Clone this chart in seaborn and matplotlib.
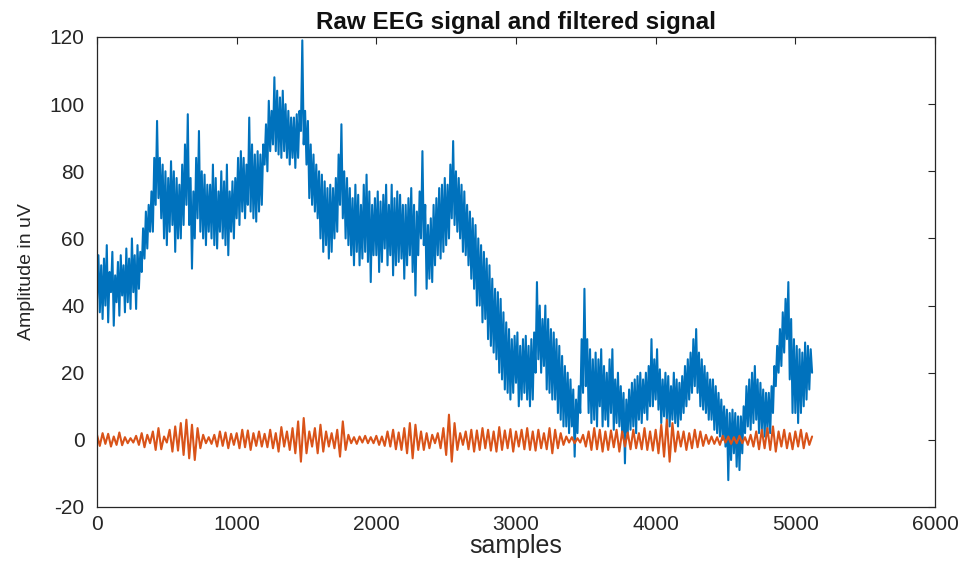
import numpy as np
import pandas as pd
import matplotlib
matplotlib.use("Agg")
import matplotlib.pyplot as plt
import seaborn as sns

# Raw EEG trace (uV), one value every 10 samples, 0..5120
raw_step = 10
raw_eeg = [
    42, 55, 38, 52, 36, 54, 40, 58, 35, 50, 44, 56, 34, 49, 41, 53, 37, 55, 43, 52,
    38, 57, 41, 54, 39, 60, 44, 55, 39, 58, 45, 56, 50, 63, 54, 68, 57, 70, 62, 74,
    62, 84, 70, 95, 72, 84, 66, 82, 60, 80, 58, 78, 62, 83, 64, 80, 56, 78, 60, 76,
    60, 82, 64, 88, 70, 97, 64, 78, 51, 74, 60, 84, 66, 92, 62, 80, 60, 79, 58, 76,
    62, 76, 60, 82, 58, 78, 57, 74, 62, 80, 60, 77, 58, 82, 55, 74, 62, 77, 60, 78,
    66, 84, 64, 86, 68, 84, 66, 82, 70, 96, 68, 88, 66, 85, 65, 86, 68, 85, 70, 88,
    82, 94, 80, 101, 86, 98, 88, 108, 86, 104, 85, 102, 84, 104, 86, 100, 84, 98, 82, 96,
    84, 96, 81, 97, 84, 98, 92, 119, 88, 98, 82, 95, 72, 88, 70, 85, 68, 82, 66, 80,
    60, 79, 56, 77, 58, 75, 54, 76, 56, 75, 60, 78, 62, 85, 70, 94, 66, 80, 60, 78,
    58, 75, 55, 72, 52, 76, 56, 73, 52, 70, 54, 76, 56, 79, 53, 74, 47, 70, 55, 72,
    55, 74, 50, 71, 53, 73, 57, 76, 52, 70, 55, 76, 49, 72, 52, 74, 53, 73, 54, 70,
    48, 70, 52, 72, 55, 75, 50, 70, 43, 68, 55, 74, 60, 86, 58, 70, 45, 64, 48, 66,
    47, 70, 52, 72, 55, 75, 54, 76, 56, 78, 58, 76, 60, 82, 66, 89, 64, 80, 62, 78,
    60, 76, 56, 74, 55, 70, 52, 68, 48, 66, 45, 64, 40, 60, 40, 58, 35, 56, 36, 54,
    30, 52, 28, 48, 26, 45, 24, 44, 20, 42, 18, 38, 15, 35, 14, 33, 12, 30, 14, 31,
    17, 32, 10, 28, 12, 30, 14, 31, 12, 28, 10, 30, 12, 32, 20, 47, 24, 40, 20, 36,
    22, 40, 15, 36, 14, 33, 12, 32, 12, 30, 8, 28, 6, 25, 4, 22, 4, 20, 2, 18,
    4, 15, -5, 12, 2, 16, 8, 30, 14, 45, 16, 30, 8, 27, 5, 24, 6, 26, 4, 24,
    10, 27, 4, 22, 6, 20, 4, 24, 8, 27, 3, 18, 5, 20, 4, 16, 2, 14, -7, 12,
    2, 15, 3, 17, 4, 18, 2, 19, 6, 20, 5, 18, 8, 20, 6, 22, 10, 30, 10, 24,
    12, 27, 9, 21, 5, 18, 7, 20, 6, 19, 4, 16, 6, 20, 5, 18, 4, 17, 6, 19,
    8, 22, 10, 24, 12, 26, 14, 30, 16, 33, 14, 26, 10, 24, 9, 22, 8, 20, 6, 18,
    6, 18, 3, 16, 2, 14, 1, 12, 0, 10, -2, 9, -12, 8, -6, 9, -4, 8, -8, 7,
    -9, 7, -4, 10, 2, 16, 4, 18, 3, 20, 5, 22, 6, 18, 2, 17, 3, 15, 1, 14,
    3, 14, 2, 16, 8, 22, 16, 28, 20, 33, 22, 38, 26, 42, 30, 47, 18, 36, 8, 30,
    8, 28, 5, 27, 8, 26, 10, 29, 12, 28, 15, 27, 20,
]

# Filtered trace (uV), one value every 20 samples, 0..5120
filt_step = 20
filtered = [
    1.5, -1.8, 2.0, -1.2, 1.8, -2.0, 1.0, -1.5, 2.2, -1.6,
    0.8, -1.0, 0.5, -0.8, 1.2, -1.5, 2.0, -2.2, 1.5, -1.0,
    2.5, -3.0, 3.5, -2.8, 1.0, -0.8, 3.0, -3.5, 4.0, -3.2,
    5.0, -4.5, 6.0, -5.5, 4.5, -6.0, 3.5, -2.5, 1.5, -1.0,
    0.8, -1.2, 1.5, -2.0, 2.5, -1.8, 2.2, -2.5, 1.8, -1.5,
    2.0, -2.5, 3.0, -2.2, 2.8, -3.0, 2.0, -1.8, 2.5, -2.0,
    1.8, -2.2, 3.0, -2.5, 2.0, -3.5, 3.8, -2.0, 2.5, -3.0,
    3.5, -4.0, 5.5, -6.5, 6.5, -4.0, 2.5, -2.0, 3.5, -4.0,
    4.5, -3.5, 2.5, -2.0, 2.0, -2.5, 3.0, -5.0, 5.5, -3.0,
    1.5, -1.0, 0.8, -1.2, 1.0, -0.8, 1.2, -1.0, 0.8, -1.0,
    1.2, -1.5, 1.0, -1.8, 2.5, -2.0, 3.0, -2.8, 2.2, -3.0,
    3.5, -4.0, 5.0, -5.5, 4.5, -3.0, 2.5, -3.0, 2.0, -2.5,
    1.5, -1.0, 2.0, -2.5, 3.5, -4.5, 7.5, -6.5, 5.0, -3.0,
    2.0, -1.5, 2.5, -2.8, 3.0, -3.5, 2.8, -3.0, 3.5, -2.5,
    3.0, -3.2, 2.5, -3.5, 3.8, -3.0, 2.8, -2.5, 3.2, -3.5,
    2.5, -2.0, 3.0, -2.8, 3.5, -3.0, 2.5, -3.2, 3.0, -2.5,
    2.0, -2.8, 3.5, -4.0, 3.0, -2.5, 2.0, -1.5, 1.0, -0.8,
    0.8, -1.0, 0.5, -0.8, 1.5, -2.0, 2.5, -3.0, 3.5, -2.8,
    3.0, -3.5, 2.5, -3.0, 2.8, -2.2, 3.0, -3.5, 2.5, -2.0,
    2.2, -2.8, 3.0, -2.5, 2.0, -2.8, 3.5, -3.0, 2.5, -3.2,
    3.0, -4.0, 4.5, -5.0, 6.0, -6.5, 5.0, -3.5, 2.5, -2.0,
    2.5, -3.0, 2.0, -2.5, 3.0, -2.2, 2.5, -1.8, 1.5, -1.2,
    1.0, -1.2, 0.8, -1.5, 1.2, -0.8, 1.0, -1.2, 0.8, -1.0,
    1.2, -1.0, 0.8, -1.5, 1.5, -2.0, 2.5, -2.8, 3.0, -2.5,
    3.5, -3.0, 4.0, -3.5, 2.5, -2.0, 3.0, -2.5, 2.0, -2.8,
    2.5, -2.0, 3.0, -2.5, 2.0, -1.5, 1.0,
]

x_ticks = [0, 1000, 2000, 3000, 4000, 5000, 6000]
y_ticks = [-20, 0, 20, 40, 60, 80, 100, 120]

raw_df = pd.DataFrame({"samples": np.arange(len(raw_eeg)) * raw_step,
                       "amplitude": raw_eeg})
filt_df = pd.DataFrame({"samples": np.arange(len(filtered)) * filt_step,
                        "amplitude": filtered})

sns.set_theme(style="white")
plt.rcParams["font.family"] = ["Liberation Sans", "DejaVu Sans"]
plt.rcParams["axes.unicode_minus"] = False

fig = plt.figure(figsize=(9.6, 5.67), dpi=100)
ax = fig.add_axes([97 / 960, 1 - 507 / 567, (935 - 97) / 960, (507 - 37) / 567])

blue = "#0072BD"
orange = "#D95319"
sns.lineplot(data=raw_df, x="samples", y="amplitude", ax=ax, color=blue,
             linewidth=1.5, estimator=None)
sns.lineplot(data=filt_df, x="samples", y="amplitude", ax=ax, color=orange,
             linewidth=1.5, estimator=None)

ax.set_xlim(0, 6000)
ax.set_ylim(-20, 120)
ax.set_xticks(x_ticks)
ax.set_yticks(y_ticks)
ax.tick_params(direction="in", length=5, width=0.8, top=True, right=True,
               labelsize=15, colors="#262626")
ax.tick_params(axis="y", pad=9)
ax.tick_params(axis="x", pad=6)
for s in ax.spines.values():
    s.set_color("#262626")
    s.set_linewidth(0.9)

ax.set_title("Raw EEG signal and filtered signal", fontsize=17.5,
             fontweight="bold", color="#111111", pad=6)
ax.set_xlabel("samples", fontsize=18, color="#262626", labelpad=0)
ax.set_ylabel("Amplitude in uV", fontsize=14, color="#262626", labelpad=10)

fig.savefig("out.png", dpi=100, facecolor="white")
